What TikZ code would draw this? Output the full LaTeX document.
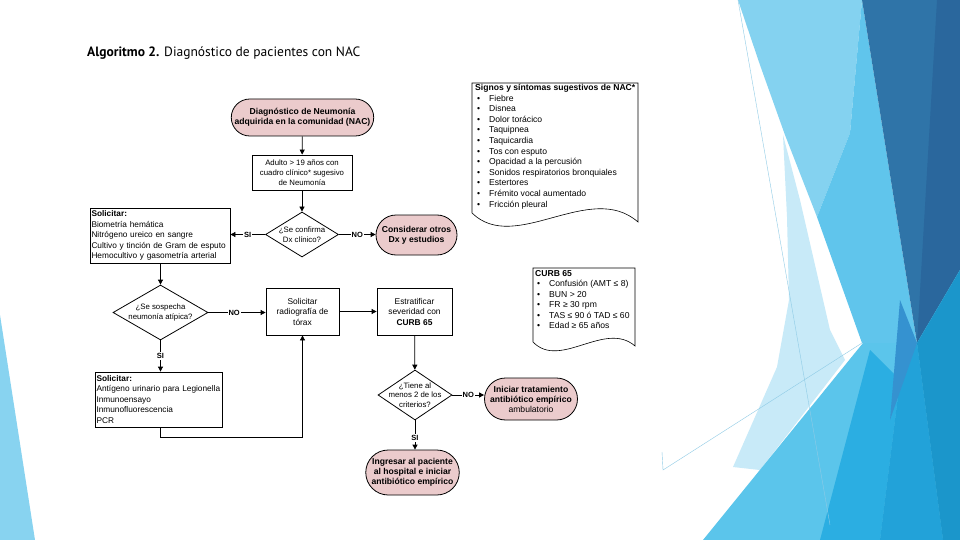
\documentclass[tikz,border=0pt]{standalone}
\usepackage{fontspec}
\setmainfont{Liberation Sans}
\newfontfamily\titlefont{PT Sans}
\usetikzlibrary{positioning,calc,shapes.geometric,shapes.misc,arrows.meta}

\definecolor{termfill}{HTML}{EBCBCC}
\definecolor{bgleft}{HTML}{88D3F0}
\definecolor{bgpale}{HTML}{C8EAF8}
\definecolor{bglight}{HTML}{84D2F0}
\definecolor{bgmid}{HTML}{60C5EC}
\definecolor{bgdark}{HTML}{2F74A8}
\definecolor{bgdeep}{HTML}{2A679D}
\definecolor{bgcyan}{HTML}{5BC5EB}
\definecolor{bgcyanb}{HTML}{2BAEE2}
\definecolor{bgcyanc}{HTML}{22A2D9}
\definecolor{bgcyand}{HTML}{1B96CB}
\definecolor{bgwedge}{HTML}{3592D0}
\definecolor{bgline}{HTML}{8FCBE6}

\newcommand{\vineta}{\hspace{2pt}\makebox[12pt][l]{\textbullet}}

\begin{document}
\begin{tikzpicture}[x=1pt, y=-1pt,
    term/.style={rounded rectangle, draw, line width=0.8pt, fill=termfill, align=center, inner sep=1pt,
        font=\fontsize{8.6}{10}\selectfont\bfseries},
    proc/.style={rectangle, draw, line width=0.8pt, align=center, inner sep=1pt,
        font=\fontsize{8.4}{10.5}\selectfont},
    dec/.style={diamond, draw, line width=0.8pt, align=center, shape aspect=1.6, inner sep=-6pt,
        font=\fontsize{7.8}{9.5}\selectfont},
    ask/.style={rectangle, draw, line width=0.8pt, align=left, inner sep=1.5pt,
        font=\fontsize{8.3}{10.5}\selectfont},
    flow/.style={-{Triangle[length=5pt,width=5pt]}, line width=0.8pt},
    ans/.style={fill=white, inner sep=1pt, font=\fontsize{7.5}{8}\selectfont\bfseries},
    crit/.style={anchor=north west, align=left, inner sep=0pt, font=\fontsize{8.6}{10.6}\selectfont},
    wavy/.style={draw, line width=0.6pt}
]
    \useasboundingbox (0,0) rectangle (960,540);
    \fill[white] (0,0) rectangle (960,540);

    % fondo de la diapositiva
    \fill[bgleft] (0,315) -- (35,540) -- (0,540) -- cycle;
    \fill[bgpale] (783,135) -- (800,200) -- (830,330) -- (845,360) -- (760,470) -- (733,467)
        -- (777,367) -- (789,300) -- (787,217) -- cycle;
    \fill[bglight] (738,0) -- (862,0) -- (850,133) -- (817,217) -- (785,135) -- (760,65) -- cycle;
    \fill[bgmid] (862,0) -- (917,343) -- (862,343) -- (817,217) -- (850,133) -- cycle;
    \fill[bgdark] (862,0) -- (960,0) -- (960,270) -- (917,343) -- cycle;
    \fill[bgdeep] (937,0) -- (960,0) -- (960,270) -- (917,343) -- cycle;
    \fill[bgcyan] (863,343) -- (917,343) -- (960,270) -- (960,540) -- (703,540) -- cycle;
    \fill[bgcyanb] (870,350) -- (900,380) -- (880,540) -- (820,540) -- cycle;
    \fill[bgcyanc] (900,380) -- (917,343) -- (943,540) -- (880,540) -- cycle;
    \fill[bgcyand] (917,343) -- (960,270) -- (960,540) -- (943,540) -- cycle;
    \fill[bgwedge] (900,300) -- (917,343) -- (890,420) -- cycle;
    \draw[bgline, line width=0.4pt] (738,0) -- (830,525);
    \draw[bgline, line width=0.4pt] (662,452) -- (663,470) -- (862,343);

    % titulo
    \node[anchor=base west, inner sep=0pt, font=\titlefont\fontsize{13.5}{15}\selectfont] (titulo) at (87,57)
        {\textbf{Algoritmo 2.} Diagnóstico de pacientes con NAC};

    % nodos del algoritmo
    \node[term, minimum width=139pt, minimum height=37pt] (inicio) at (302.5,117.5)
        {Diagnóstico de Neumonía\\adquirida en la comunidad (NAC)};
    \node[proc, minimum width=100pt, minimum height=35pt, font=\fontsize{7.8}{10}\selectfont] (adulto) at (302,172.5)
        {Adulto > 19 años con\\cuadro clínico* sugesivo\\de Neumonía};
    \node[dec, minimum width=73pt, minimum height=45pt] (confirma) at (302,234.5)
        {¿Se confirma\\Dx clínico?};
    \node[term, minimum width=83pt, minimum height=40pt] (otros) at (416.5,235)
        {Considerar otros\\Dx y estudios};
    \node[ask, text width=137pt, minimum height=55pt] (labs) at (160,235.5)
        {\textbf{Solicitar:}\\
         Biometría hemática\\
         Nitrógeno ureico en sangre\\
         Cultivo y tinción de Gram de esputo\\
         Hemocultivo y gasometría arterial};
    \node[dec, minimum width=95pt, minimum height=55pt] (sospecha) at (160.5,312.5)
        {¿Se sospecha\\neumonía atípica?};
    \node[proc, minimum width=73pt, minimum height=47pt] (radio) at (302.5,311.5)
        {Solicitar\\radiografía de\\tórax};
    \node[proc, minimum width=75pt, minimum height=47pt] (estrat) at (414.5,311.5)
        {Estratificar\\severidad con\\\textbf{CURB 65}};
    \node[ask, text width=124pt, minimum height=55pt] (atipica) at (158.5,399.5)
        {\textbf{Solicitar:}\\
         Antígeno urinario para Legionella\\
         Inmunoensayo\\
         Inmunofluorescencia\\
         PCR};
    \node[dec, minimum width=74pt, minimum height=50pt] (criterios) at (415,395)
        {¿Tiene al\\menos 2 de los\\criterios?};
    \node[term, minimum width=88pt, minimum height=42pt] (ambul) at (531,399)
        {Iniciar tratamiento\\antibiótico empírico\\\mdseries ambulatorio};
    \node[term, minimum width=89pt, minimum height=45pt] (ingreso) at (412.5,472.5)
        {Ingresar al paciente\\al hospital e iniciar\\antibiótico empírico};

    % conectores
    \draw[flow] (inicio) -- (adulto);
    \draw[flow] (adulto) -- (confirma);
    \draw[flow] (confirma.west) -- node[ans] {SI} (confirma.west -| labs.east);
    \draw[flow] (confirma.east) -- node[ans] {NO} (confirma.east -| otros.west);
    \draw[flow] (sospecha.north |- labs.south) -- (sospecha.north);
    \draw[flow] (sospecha.east) -- node[ans, pos=0.45] {NO} (sospecha.east -| radio.west);
    \draw[flow] (radio) -- (estrat);
    \draw[flow] (sospecha.south) -- node[ans] {SI} (sospecha.south |- atipica.north);
    \draw[flow] (sospecha.south |- atipica.south) -- ++(0,10) -| (radio.south);
    \draw[flow] (estrat) -- (criterios);
    \draw[flow] (criterios.east) -- node[ans] {NO} (criterios.east -| ambul.west);
    \draw[flow] (criterios.south) -- node[ans, pos=0.6] {SI} (criterios.south |- ingreso.north);

    % signos y sintomas
    \draw[wavy] (472,213) -- (472,83) -- (638,83) -- (638,222)
        .. controls (590,180) and (515,255) .. (472,213);
    \node[crit] (signos) at (475,84)
        {\textbf{Signos y síntomas sugestivos de NAC*}\\
         \vineta Fiebre\\
         \vineta Disnea\\
         \vineta Dolor torácico\\
         \vineta Taquipnea\\
         \vineta Taquicardia\\
         \vineta Tos con esputo\\
         \vineta Opacidad a la percusión\\
         \vineta Sonidos respiratorios bronquiales\\
         \vineta Estertores\\
         \vineta Frémito vocal aumentado\\
         \vineta Fricción pleural};

    % criterios CURB 65
    \draw[wavy] (533,342) -- (533,268) -- (635,268) -- (635,346)
        .. controls (605,320) and (560,370) .. (533,342);
    \node[crit, font=\fontsize{8.6}{10.5}\selectfont] (curb) at (535,270)
        {\textbf{CURB 65}\\
         \vineta Confusión (AMT ≤ 8)\\
         \vineta BUN > 20\\
         \vineta FR ≥ 30 rpm\\
         \vineta TAS ≤ 90 ó TAD ≤ 60\\
         \vineta Edad ≥ 65 años};
\end{tikzpicture}
\end{document}
